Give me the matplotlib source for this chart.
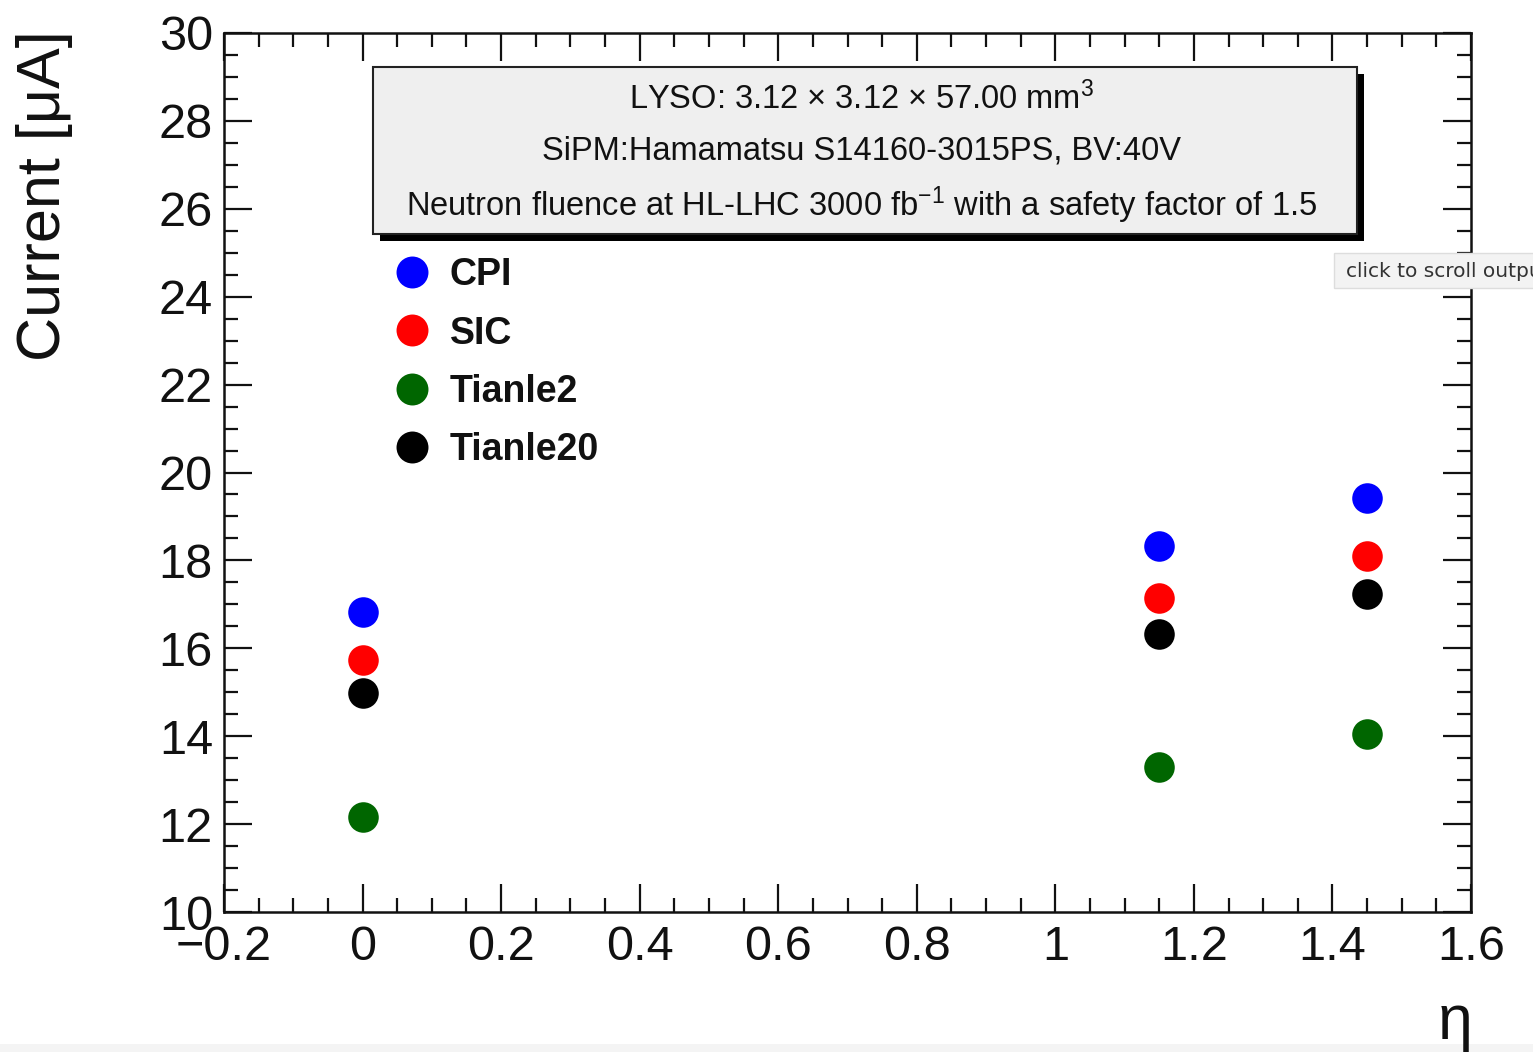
import matplotlib
matplotlib.use("Agg")
import matplotlib.pyplot as plt
from matplotlib.patches import Rectangle
from matplotlib.lines import Line2D
from matplotlib.ticker import MultipleLocator

plt.rcParams['font.family'] = ['Liberation Sans', 'DejaVu Sans']
plt.rcParams['mathtext.fontset'] = 'custom'
plt.rcParams['mathtext.rm'] = 'Liberation Sans'
plt.rcParams['mathtext.it'] = 'Liberation Sans:italic'
plt.rcParams['mathtext.bf'] = 'Liberation Sans:bold'

# ---------------- data ----------------
eta = [0.0, 1.15, 1.45]
series_names = ["CPI", "SIC", "Tianle2", "Tianle20"]
cpi = [16.82, 18.33, 19.41]
sic = [15.74, 17.14, 18.10]
tianle2 = [12.17, 13.31, 14.06]
tianle20 = [14.98, 16.33, 17.24]
series_colors = ["#0000ff", "#ff0000", "#006600", "#000000"]
info_lines = [
    r"LYSO: 3.12 $\times$ 3.12 $\times$ 57.00 mm$^{3}$",
    "SiPM:Hamamatsu S14160-3015PS, BV:40V",
    r"Neutron fluence at HL-LHC 3000 fb$^{-1}$ with a safety factor of 1.5",
]
xlim = (-0.2, 1.6)
ylim = (10, 30)

W, H = 1533, 1052
fig = plt.figure(figsize=(W / 100, H / 100), dpi=100)
fig.patch.set_facecolor("white")

def fx(px):
    return px / W

def fy(py):
    return 1 - py / H

ax = fig.add_axes([fx(224), fy(912), fx(1471) - fx(224), fy(33) - fy(912)])
ax.set_xlim(*xlim)
ax.set_ylim(*ylim)

for vals, col in zip([cpi, sic, tianle2, tianle20], series_colors):
    ax.plot(eta, vals, linestyle="none", marker="o", markersize=22,
            markerfacecolor=col, markeredgecolor=col, markeredgewidth=0, zorder=5)

ax.xaxis.set_major_locator(MultipleLocator(0.2))
ax.xaxis.set_minor_locator(MultipleLocator(0.05))
ax.yaxis.set_major_locator(MultipleLocator(2))
ax.yaxis.set_minor_locator(MultipleLocator(0.5))
ax.xaxis.set_major_formatter(plt.FuncFormatter(lambda v, p: ("%g" % round(v, 2)).replace("-", "\u2212")))
ax.yaxis.set_major_formatter(plt.FuncFormatter(lambda v, p: "%g" % v))

ax.tick_params(which="both", direction="in", top=True, right=True, width=1.6, color="#111111")
ax.tick_params(which="major", length=20)
ax.tick_params(which="minor", length=10)
ax.tick_params(axis="both", which="major", labelsize=35, labelcolor="#111111")
ax.tick_params(axis="y", pad=8)
ax.tick_params(axis="x", pad=9)
for s in ax.spines.values():
    s.set_linewidth(1.8)
    s.set_color("#111111")

# axis titles (ROOT style, at the ends)
fig.text(fx(45), fy(30), "Current [\u03bcA]", rotation=90, ha="center", va="top",
         fontsize=44, color="#111111")
fig.text(fx(1472), fy(1052), "\u03b7", ha="right", va="bottom", fontsize=45, color="#111111")

# info box with shadow
bx0, by0, bx1, by1 = 373, 67, 1357, 234
sh = 7
fig.patches.append(Rectangle((fx(bx0 + sh), fy(by1 + sh)), fx(bx1) - fx(bx0), fy(by0) - fy(by1),
                             transform=fig.transFigure, facecolor="black", edgecolor="none", zorder=10))
fig.patches.append(Rectangle((fx(bx0), fy(by1)), fx(bx1) - fx(bx0), fy(by0) - fy(by1),
                             transform=fig.transFigure, facecolor="#efefef", edgecolor="#222222",
                             linewidth=1.5, zorder=11))
for txt, py in zip(info_lines, [99, 151, 205]):
    fig.text(fx(862), fy(py), txt, ha="center", va="center", fontsize=23.5, color="#111111", zorder=12)

# legend
handles = [Line2D([], [], linestyle="none", marker="o", markersize=23,
                  markerfacecolor=c, markeredgewidth=0) for c in series_colors]
leg = fig.legend(handles, series_names, loc="upper left",
                 bbox_to_anchor=(fx(397), fy(257)), bbox_transform=fig.transFigure,
                 frameon=False, borderpad=0, borderaxespad=0, handlelength=0.8,
                 handletextpad=0.6, labelspacing=0.6,
                 prop={"family": "Liberation Sans", "weight": "bold", "size": 27})
for t in leg.get_texts():
    t.set_color("#111111")

# screenshot tooltip overlay
fig.patches.append(Rectangle((fx(1334), fy(288)), fx(1540) - fx(1334), fy(253) - fy(288),
                             transform=fig.transFigure, facecolor="#f3f3f3", edgecolor="#dddddd",
                             linewidth=1, zorder=20))
fig.text(fx(1346), fy(271), "click to scroll output", ha="left", va="center",
         fontsize=14.5, color="#333333", family="DejaVu Sans", zorder=21)
# bottom gray strip
fig.patches.append(Rectangle((0, 0), 1, fy(1044), transform=fig.transFigure,
                             facecolor="#f4f4f4", edgecolor="none", zorder=0))

fig.savefig("out.png", dpi=100)
